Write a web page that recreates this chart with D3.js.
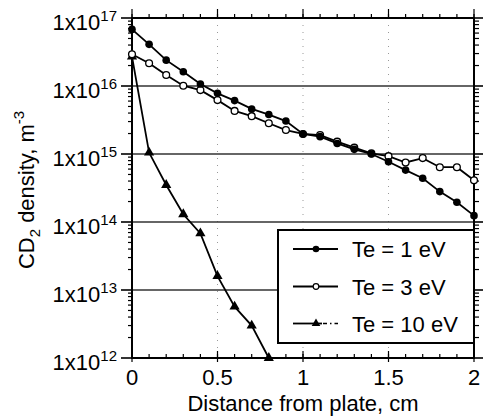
<!DOCTYPE html>
<html><head><meta charset="utf-8">
<script src="https://cdn.jsdelivr.net/npm/d3@7"></script>
<style>
body{margin:0;background:#fff}
svg{display:block}
text{font-family:"Liberation Sans",Arial,Helvetica,sans-serif;fill:#000}
</style>
</head><body>
<svg id="chart" width="484" height="420"></svg>
<script>
// ---- data ----
const distance = [0,0.1,0.2,0.3,0.4,0.5,0.6,0.7,0.8,0.9,1.0,1.1,1.2,1.3,1.4,1.5,1.6,1.7,1.8,1.9,2.0];
const te1 = [6.8e16,4.1e16,2.4e16,1.62e16,1.07e16,7.8e15,6.1e15,4.6e15,3.8e15,3.05e15,1.97e15,1.8e15,1.43e15,1.17e15,1.0e15,7.7e14,5.8e14,4.4e14,2.8e14,1.95e14,1.24e14];
const te3 = [2.93e16,2.16e16,1.45e16,1.01e16,8.7e15,6.2e15,4.3e15,3.6e15,2.83e15,2.25e15,1.97e15,1.9e15,1.52e15,1.24e15,1.02e15,9.3e14,7.5e14,8.7e14,6.4e14,6.4e14,4.1e14];
const distance10 = [0,0.1,0.2,0.3,0.4,0.5,0.6,0.7,0.8];
const te10 = [2.7e16,1.05e15,3.5e14,1.3e14,6.8e13,1.6e13,5.7e12,3.0e12,1.0e12];
const xTicks = [0,0.5,1,1.5,2];
const xTickLabels = ["0","0.5","1","1.5","2"];
const yDecades = [1e12,1e13,1e14,1e15,1e16,1e17];
const yExponents = ["12","13","14","15","16","17"];
const legendLabels = ["Te = 1 eV","Te = 3 eV","Te = 10 eV"];

const svg = d3.select("#chart");
const L = 132, R = 474, T = 18, B = 358;
const x = d3.scaleLinear().domain([0,2]).range([L,R]);
const y = d3.scaleLog().domain([1e12,1e17]).range([B,T]);

// vertical dotted grid
svg.append("g").selectAll("line").data([0.5,1,1.5]).join("line")
  .attr("x1",d=>x(d)).attr("x2",d=>x(d)).attr("y1",T).attr("y2",B)
  .attr("stroke","#999").attr("stroke-width",1).attr("stroke-dasharray","1,6");

// horizontal grid at interior decades
svg.append("g").selectAll("line").data(yDecades.slice(1,-1)).join("line")
  .attr("x1",L).attr("x2",R).attr("y1",d=>y(d)).attr("y2",d=>y(d))
  .attr("stroke","#333").attr("stroke-width",1.6);

// minor ticks
const minorX = d3.range(0,2.0001,0.1).map(v=>+v.toFixed(1));
const minorY = [];
yDecades.slice(0,-1).forEach(d=>{for(let k=2;k<=9;k++) minorY.push(d*k);});
const tk = svg.append("g").attr("stroke","#000").attr("stroke-width",1.2);
// top: outward (up)
tk.selectAll(".tmin").data(minorX).join("line")
  .attr("x1",d=>x(d)).attr("x2",d=>x(d)).attr("y1",T).attr("y2",T-4);
tk.selectAll(".tmaj").data(xTicks).join("line").attr("class","tmaj")
  .attr("x1",d=>x(d)).attr("x2",d=>x(d)).attr("y1",T).attr("y2",T-9);
// bottom: inward (up), majors crossing
tk.selectAll(".bmin").data(minorX).join("line").attr("class","bmin")
  .attr("x1",d=>x(d)).attr("x2",d=>x(d)).attr("y1",B).attr("y2",B-4);
tk.selectAll(".bmaj").data(xTicks).join("line").attr("class","bmaj")
  .attr("x1",d=>x(d)).attr("x2",d=>x(d)).attr("y1",B+4).attr("y2",B-7);
// left: outward
tk.selectAll(".lmin").data(minorY).join("line").attr("class","lmin")
  .attr("x1",L).attr("x2",L-4).attr("y1",d=>y(d)).attr("y2",d=>y(d));
tk.selectAll(".lmaj").data(yDecades).join("line").attr("class","lmaj")
  .attr("x1",L).attr("x2",L-11).attr("y1",d=>y(d)).attr("y2",d=>y(d)).attr("stroke-width",1.6);
// right: outward
tk.selectAll(".rmin").data(minorY).join("line").attr("class","rmin")
  .attr("x1",R).attr("x2",R+5).attr("y1",d=>y(d)).attr("y2",d=>y(d));
tk.selectAll(".rmaj").data(yDecades).join("line").attr("class","rmaj")
  .attr("x1",R).attr("x2",R+9).attr("y1",d=>y(d)).attr("y2",d=>y(d)).attr("stroke-width",1.6);

// frame
svg.append("rect").attr("x",L).attr("y",T).attr("width",R-L).attr("height",B-T)
  .attr("fill","none").attr("stroke","#000").attr("stroke-width",2);

// x tick labels
svg.append("g").selectAll("text").data(xTicks).join("text")
  .attr("x",d=>x(d)).attr("y",B+27).attr("text-anchor","middle")
  .attr("font-size",22).text((d,i)=>xTickLabels[i]);

// y tick labels
const yl = svg.append("g").selectAll("text").data(yDecades).join("text")
  .attr("x",L-15).attr("y",d=>y(d)+12).attr("text-anchor","end").attr("font-size",22);
yl.append("tspan").text("1x10");
yl.append("tspan").attr("font-size",15).attr("dy",-9).text((d,i)=>yExponents[i]);

// axis titles
svg.append("text").attr("x",(L+R)/2).attr("y",411).attr("text-anchor","middle")
  .attr("font-size",22).text("Distance from plate, cm");
const yt = svg.append("text").attr("transform","translate(34,190) rotate(-90)")
  .attr("text-anchor","middle").attr("font-size",22);
yt.append("tspan").text("CD");
yt.append("tspan").attr("font-size",15).attr("dy",6).text("2");
yt.append("tspan").attr("dy",-6).text(" density, m");
yt.append("tspan").attr("font-size",15).attr("dy",-10).text("-3");

// lines
const line = d3.line().x(d=>x(d[0])).y(d=>y(d[1]));
const s10 = distance10.map((d,i)=>[d,te10[i]]);
const s3 = distance.map((d,i)=>[d,te3[i]]);
const s1 = distance.map((d,i)=>[d,te1[i]]);
const tri = d3.symbol().type(d3.symbolTriangle);

svg.append("path").datum(s10).attr("d",line).attr("fill","none").attr("stroke","#000").attr("stroke-width",1.8);
svg.append("g").selectAll("path").data(s10).join("path")
  .attr("transform",d=>`translate(${x(d[0])},${y(d[1])})`).attr("d",tri.size(45)()).attr("fill","#000");

svg.append("path").datum(s3).attr("d",line).attr("fill","none").attr("stroke","#000").attr("stroke-width",1.8);
svg.append("g").selectAll("circle").data(s3).join("circle")
  .attr("cx",d=>x(d[0])).attr("cy",d=>y(d[1])).attr("r",3.4)
  .attr("fill","#fff").attr("stroke","#000").attr("stroke-width",1.3);

svg.append("path").datum(s1).attr("d",line).attr("fill","none").attr("stroke","#000").attr("stroke-width",1.8);
svg.append("g").selectAll("circle").data(s1).join("circle")
  .attr("cx",d=>x(d[0])).attr("cy",d=>y(d[1])).attr("r",3.8).attr("fill","#000");

// legend
const lg = svg.append("g");
lg.append("rect").attr("x",278).attr("y",230).attr("width",R-278).attr("height",113)
  .attr("fill","#fff").attr("stroke","#000").attr("stroke-width",2);
const rowsY = [249,286.5,323.5];
legendLabels.forEach((lab,i)=>{
  const cy = rowsY[i];
  if(i<2){
    lg.append("line").attr("x1",293).attr("x2",338).attr("y1",cy).attr("y2",cy).attr("stroke","#000").attr("stroke-width",1.8);
  } else {
    lg.append("line").attr("x1",293).attr("x2",322).attr("y1",cy).attr("y2",cy).attr("stroke","#000").attr("stroke-width",1.8);
    lg.append("line").attr("x1",323).attr("x2",338).attr("y1",cy).attr("y2",cy).attr("stroke","#000").attr("stroke-width",1.5).attr("stroke-dasharray","4,3,1.5,3");
  }
  if(i===0) lg.append("circle").attr("cx",316).attr("cy",cy).attr("r",3.3).attr("fill","#000");
  if(i===1) lg.append("circle").attr("cx",316).attr("cy",cy).attr("r",2.8).attr("fill","#fff").attr("stroke","#000").attr("stroke-width",1.2);
  if(i===2) lg.append("path").attr("transform",`translate(316,${cy})`).attr("d",tri.size(32)()).attr("fill","#000");
  lg.append("text").attr("x",352).attr("y",cy+8).attr("font-size",22).text(lab);
});
</script>
</body></html>
